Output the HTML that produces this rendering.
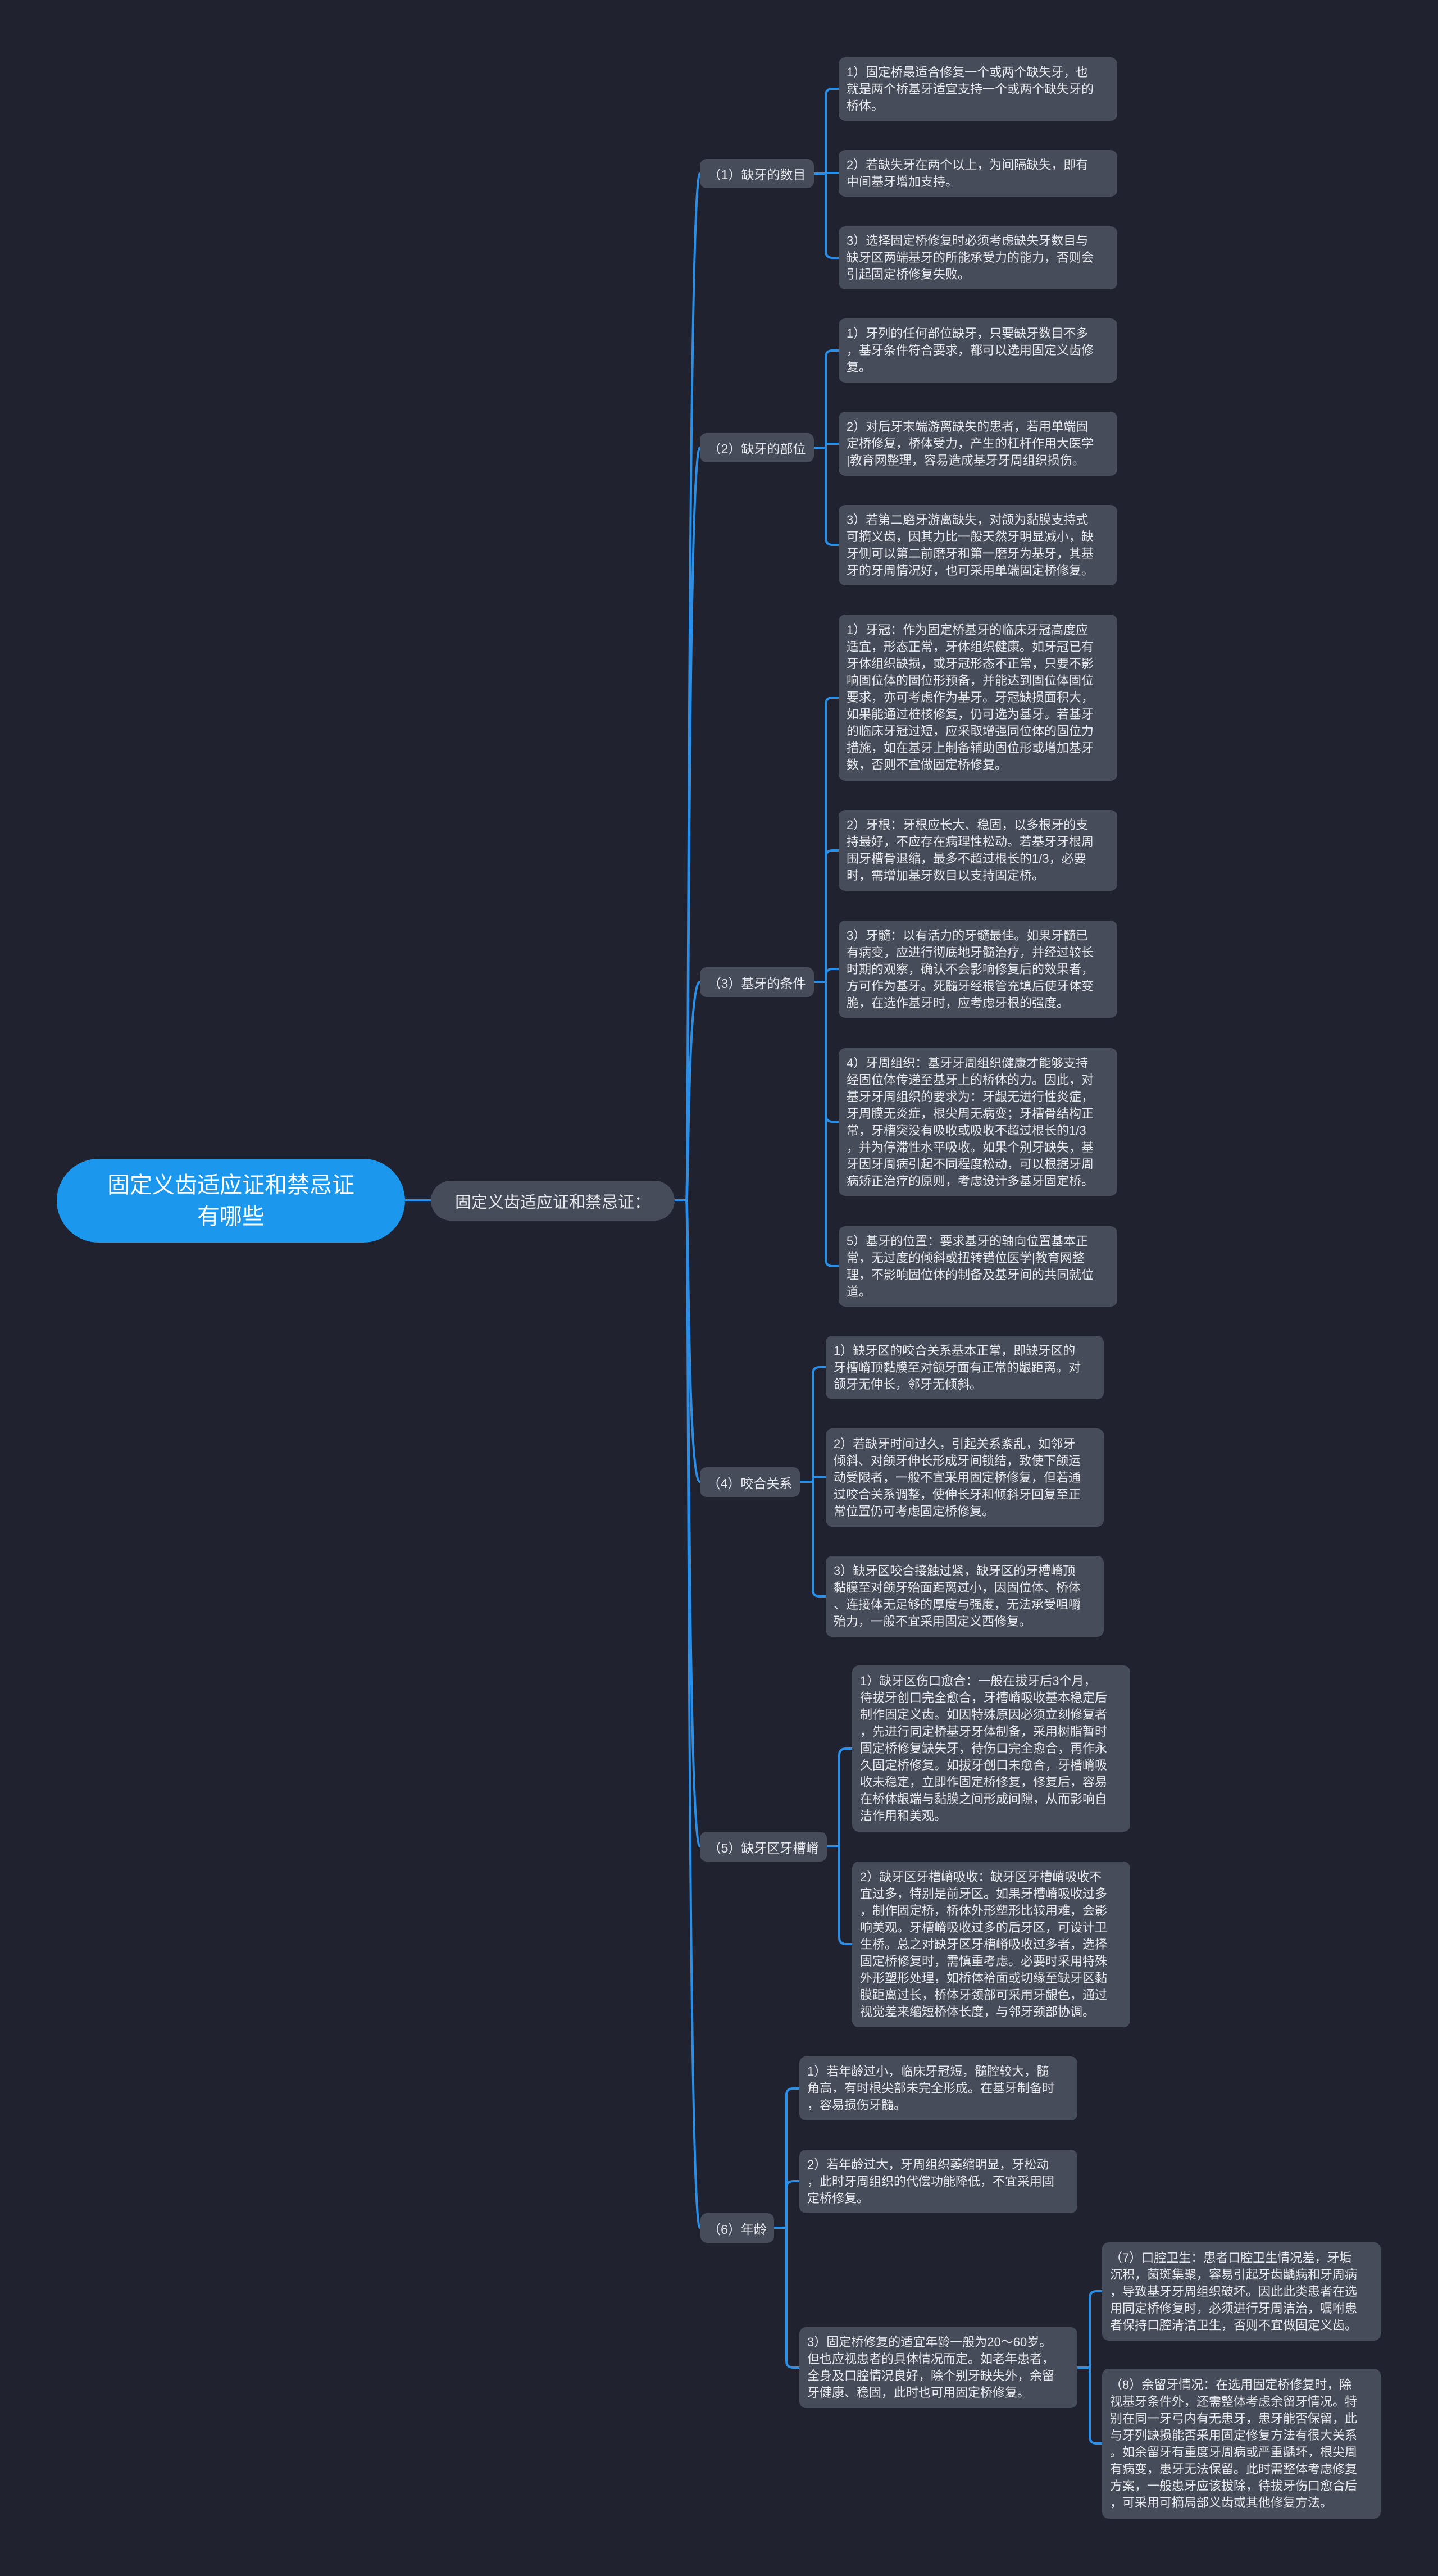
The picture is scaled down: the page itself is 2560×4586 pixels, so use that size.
<!DOCTYPE html>
<html><head><meta charset="utf-8">
<style>
html,body{margin:0;padding:0;}
body{width:2560px;height:4586px;background:#20232f;position:relative;overflow:hidden;font-family:"Liberation Sans","Noto Sans CJK SC",sans-serif;}
.n{position:absolute;box-sizing:border-box;background:#474c5b;border-radius:12px;color:#e6e8ec;display:flex;align-items:center;}
.leaf{font-size:22px;line-height:30px;padding-left:14px;white-space:nowrap;}
.mid{font-size:23px;justify-content:center;white-space:nowrap;}
svg{position:absolute;left:0;top:0;}
</style></head><body>
<svg width="2560" height="4586" fill="none" stroke="#2b8fe8" stroke-width="4">
<path d="M721 2137 H767"/>
<path d="M1201 2137 H1222"/>
<path d="M1222 2137 C1226 2137 1224 309 1246 309"/>
<path d="M1222 2137 C1226 2137 1224 797 1246 797"/>
<path d="M1222 2137 C1226 2137 1224 1748 1246 1748"/>
<path d="M1222 2137 C1226 2137 1224 2638 1246 2638"/>
<path d="M1222 2137 C1226 2137 1224 3287 1246 3287"/>
<path d="M1222 2137 C1226 2137 1224 3966 1246 3966"/>
<!-- group 1 -->
<path d="M1449 309 H1470 M1470 309 V170 Q1470 158 1482 158 H1493 M1470 309 V447 Q1470 459 1482 459 H1493 M1470 308 H1493"/>
<!-- group 2 -->
<path d="M1449 797 H1470 M1470 797 V636 Q1470 624 1482 624 H1493 M1470 797 V958 Q1470 970 1482 970 H1493 M1470 790 H1493"/>
<!-- group 3 -->
<path d="M1449 1748 H1470 M1470 1748 V1254 Q1470 1242 1482 1242 H1493 M1470 1748 V1526 Q1470 1514 1482 1514 H1493 M1470 1748 V1737 Q1470 1725 1482 1725 H1493 M1470 1748 V1985 Q1470 1997 1482 1997 H1493 M1470 1748 V2242 Q1470 2254 1482 2254 H1493"/>
<!-- group 4 -->
<path d="M1424 2638 H1447 M1447 2638 V2446 Q1447 2434 1459 2434 H1470 M1447 2638 V2830 Q1447 2842 1459 2842 H1470 M1447 2630 H1470"/>
<!-- group 5 -->
<path d="M1472 3287 H1494 M1494 3287 V3125 Q1494 3113 1506 3113 H1517 M1494 3287 V3449 Q1494 3461 1506 3461 H1517"/>
<!-- group 6 -->
<path d="M1378 3966 H1400 M1400 3966 V3730 Q1400 3718 1412 3718 H1423 M1400 3966 V3895 Q1400 3883 1412 3883 H1423 M1400 3966 V4203 Q1400 4215 1412 4215 H1423"/>
<!-- group 6-3 -->
<path d="M1918 4215 H1940 M1940 4215 V4091 Q1940 4079 1952 4079 H1962 M1940 4215 V4338 Q1940 4350 1952 4350 H1962"/>
</svg>

<div class="n" style="left:101px;top:2063px;width:620px;height:149px;border-radius:75px;background:#1c97ee;color:#fff;font-size:40px;line-height:56px;justify-content:center;text-align:center;">固定义齿适应证和禁忌证<br>有哪些</div>
<div class="n" style="left:767px;top:2102px;width:434px;height:71px;border-radius:36px;font-size:29px;justify-content:center;">固定义齿适应证和禁忌证：</div>

<div class="n mid" style="left:1246px;top:283px;width:203px;height:52px;">（1）缺牙的数目</div>
<div class="n mid" style="left:1246px;top:771px;width:203px;height:52px;">（2）缺牙的部位</div>
<div class="n mid" style="left:1246px;top:1722px;width:203px;height:53px;">（3）基牙的条件</div>
<div class="n mid" style="left:1246px;top:2612px;width:178px;height:53px;">（4）咬合关系</div>
<div class="n mid" style="left:1246px;top:3261px;width:226px;height:53px;">（5）缺牙区牙槽嵴</div>
<div class="n mid" style="left:1247px;top:3940px;width:131px;height:53px;">（6）年龄</div>

<div class="n leaf" style="left:1493px;top:102px;width:496px;height:113px;"><div>1）固定桥最适合修复一个或两个缺失牙，也<br>就是两个桥基牙适宜支持一个或两个缺失牙的<br>桥体。</div></div>
<div class="n leaf" style="left:1493px;top:267px;width:496px;height:83px;"><div>2）若缺失牙在两个以上，为间隔缺失，即有<br>中间基牙增加支持。</div></div>
<div class="n leaf" style="left:1493px;top:403px;width:496px;height:112px;"><div>3）选择固定桥修复时必须考虑缺失牙数目与<br>缺牙区两端基牙的所能承受力的能力，否则会<br>引起固定桥修复失败。</div></div>

<div class="n leaf" style="left:1493px;top:567px;width:496px;height:114px;"><div>1）牙列的任何部位缺牙，只要缺牙数目不多<br>，基牙条件符合要求，都可以选用固定义齿修<br>复。</div></div>
<div class="n leaf" style="left:1493px;top:733px;width:496px;height:114px;"><div>2）对后牙末端游离缺失的患者，若用单端固<br>定桥修复，桥体受力，产生的杠杆作用大医学<br>|教育网整理，容易造成基牙牙周组织损伤。</div></div>
<div class="n leaf" style="left:1493px;top:899px;width:496px;height:143px;"><div>3）若第二磨牙游离缺失，对颌为黏膜支持式<br>可摘义齿，因其力比一般天然牙明显减小，缺<br>牙侧可以第二前磨牙和第一磨牙为基牙，其基<br>牙的牙周情况好，也可采用单端固定桥修复。</div></div>

<div class="n leaf" style="left:1493px;top:1094px;width:496px;height:296px;"><div>1）牙冠：作为固定桥基牙的临床牙冠高度应<br>适宜，形态正常，牙体组织健康。如牙冠已有<br>牙体组织缺损，或牙冠形态不正常，只要不影<br>响固位体的固位形预备，并能达到固位体固位<br>要求，亦可考虑作为基牙。牙冠缺损面积大，<br>如果能通过桩核修复，仍可选为基牙。若基牙<br>的临床牙冠过短，应采取增强同位体的固位力<br>措施，如在基牙上制备辅助固位形或增加基牙<br>数，否则不宜做固定桥修复。</div></div>
<div class="n leaf" style="left:1493px;top:1442px;width:496px;height:144px;"><div>2）牙根：牙根应长大、稳固，以多根牙的支<br>持最好，不应存在病理性松动。若基牙牙根周<br>围牙槽骨退缩，最多不超过根长的1/3，必要<br>时，需增加基牙数目以支持固定桥。</div></div>
<div class="n leaf" style="left:1493px;top:1639px;width:496px;height:173px;"><div>3）牙髓：以有活力的牙髓最佳。如果牙髓已<br>有病变，应进行彻底地牙髓治疗，并经过较长<br>时期的观察，确认不会影响修复后的效果者，<br>方可作为基牙。死髓牙经根管充填后使牙体变<br>脆，在选作基牙时，应考虑牙根的强度。</div></div>
<div class="n leaf" style="left:1493px;top:1866px;width:496px;height:263px;"><div>4）牙周组织：基牙牙周组织健康才能够支持<br>经固位体传递至基牙上的桥体的力。因此，对<br>基牙牙周组织的要求为：牙龈无进行性炎症，<br>牙周膜无炎症，根尖周无病变；牙槽骨结构正<br>常，牙槽突没有吸收或吸收不超过根长的1/3<br>，并为停滞性水平吸收。如果个别牙缺失，基<br>牙因牙周病引起不同程度松动，可以根据牙周<br>病矫正治疗的原则，考虑设计多基牙固定桥。</div></div>
<div class="n leaf" style="left:1493px;top:2183px;width:496px;height:143px;"><div>5）基牙的位置：要求基牙的轴向位置基本正<br>常，无过度的倾斜或扭转错位医学|教育网整<br>理，不影响固位体的制备及基牙间的共同就位<br>道。</div></div>

<div class="n leaf" style="left:1470px;top:2378px;width:495px;height:113px;"><div>1）缺牙区的咬合关系基本正常，即缺牙区的<br>牙槽嵴顶黏膜至对颌牙面有正常的龈距离。对<br>颌牙无伸长，邻牙无倾斜。</div></div>
<div class="n leaf" style="left:1470px;top:2543px;width:495px;height:175px;"><div>2）若缺牙时间过久，引起关系紊乱，如邻牙<br>倾斜、对颌牙伸长形成牙间锁结，致使下颌运<br>动受限者，一般不宜采用固定桥修复，但若通<br>过咬合关系调整，使伸长牙和倾斜牙回复至正<br>常位置仍可考虑固定桥修复。</div></div>
<div class="n leaf" style="left:1470px;top:2770px;width:495px;height:144px;"><div>3）缺牙区咬合接触过紧，缺牙区的牙槽嵴顶<br>黏膜至对颌牙殆面距离过小，因固位体、桥体<br>、连接体无足够的厚度与强度，无法承受咀嚼<br>殆力，一般不宜采用固定义西修复。</div></div>

<div class="n leaf" style="left:1517px;top:2965px;width:495px;height:296px;"><div>1）缺牙区伤口愈合：一般在拔牙后3个月，<br>待拔牙创口完全愈合，牙槽嵴吸收基本稳定后<br>制作固定义齿。如因特殊原因必须立刻修复者<br>，先进行同定桥基牙牙体制备，采用树脂暂时<br>固定桥修复缺失牙，待伤口完全愈合，再作永<br>久固定桥修复。如拔牙创口未愈合，牙槽嵴吸<br>收未稳定，立即作固定桥修复，修复后，容易<br>在桥体龈端与黏膜之间形成间隙，从而影响自<br>洁作用和美观。</div></div>
<div class="n leaf" style="left:1517px;top:3314px;width:495px;height:295px;"><div>2）缺牙区牙槽嵴吸收：缺牙区牙槽嵴吸收不<br>宜过多，特别是前牙区。如果牙槽嵴吸收过多<br>，制作固定桥，桥体外形塑形比较用难，会影<br>响美观。牙槽嵴吸收过多的后牙区，可设计卫<br>生桥。总之对缺牙区牙槽嵴吸收过多者，选择<br>固定桥修复时，需慎重考虑。必要时采用特殊<br>外形塑形处理，如桥体袷面或切缘至缺牙区黏<br>膜距离过长，桥体牙颈部可采用牙龈色，通过<br>视觉差来缩短桥体长度，与邻牙颈部协调。</div></div>

<div class="n leaf" style="left:1423px;top:3661px;width:495px;height:114px;"><div>1）若年龄过小，临床牙冠短，髓腔较大，髓<br>角高，有时根尖部未完全形成。在基牙制备时<br>，容易损伤牙髓。</div></div>
<div class="n leaf" style="left:1423px;top:3827px;width:495px;height:113px;"><div>2）若年龄过大，牙周组织萎缩明显，牙松动<br>，此时牙周组织的代偿功能降低，不宜采用固<br>定桥修复。</div></div>
<div class="n leaf" style="left:1423px;top:4143px;width:495px;height:144px;"><div>3）固定桥修复的适宜年龄一般为20～60岁。<br>但也应视患者的具体情况而定。如老年患者，<br>全身及口腔情况良好，除个别牙缺失外，余留<br>牙健康、稳固，此时也可用固定桥修复。</div></div>

<div class="n leaf" style="left:1962px;top:3992px;width:496px;height:175px;"><div>（7）口腔卫生：患者口腔卫生情况差，牙垢<br>沉积，菌斑集聚，容易引起牙齿龋病和牙周病<br>，导致基牙牙周组织破坏。因此此类患者在选<br>用同定桥修复时，必须进行牙周洁治，嘱咐患<br>者保持口腔清洁卫生，否则不宜做固定义齿。</div></div>
<div class="n leaf" style="left:1962px;top:4217px;width:496px;height:267px;"><div>（8）余留牙情况：在选用固定桥修复时，除<br>视基牙条件外，还需整体考虑余留牙情况。特<br>别在同一牙弓内有无患牙，患牙能否保留，此<br>与牙列缺损能否采用固定修复方法有很大关系<br>。如余留牙有重度牙周病或严重龋坏，根尖周<br>有病变，患牙无法保留。此时需整体考虑修复<br>方案，一般患牙应该拔除，待拔牙伤口愈合后<br>，可采用可摘局部义齿或其他修复方法。</div></div>
</body></html>
